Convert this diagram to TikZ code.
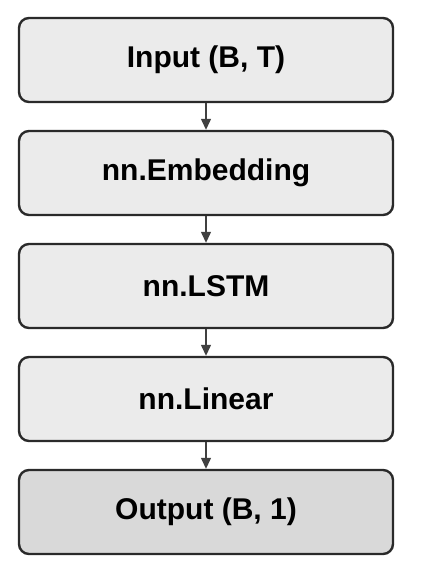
\documentclass[tikz,border=0pt]{standalone}
\usepackage{fontspec}
\setmainfont{Liberation Sans}
\usetikzlibrary{arrows.meta}
\definecolor{boxfill}{HTML}{EBEBEB}
\definecolor{outfill}{HTML}{D9D9D9}
\definecolor{edge}{HTML}{2A2A2A}
\definecolor{arr}{HTML}{404040}
\begin{document}
\begin{tikzpicture}[x=1pt,y=-1pt,
  layer/.style={draw=edge,line width=2.4pt,rounded corners=10pt,fill=boxfill,
    minimum width=374pt,minimum height=84pt,inner sep=0pt,
    font=\fontsize{30}{34}\selectfont\bfseries,text=black},
  outbox/.style={layer,fill=outfill},
  flow/.style={draw=arr,line width=1.3pt,-{Triangle[length=11pt,width=10pt]}}]
\useasboundingbox (0,0) rectangle (422,581);
\node[layer]  (in)  at (206,60)  {Input (B, T)};
\node[layer]  (emb) at (206,173) {nn.Embedding};
\node[layer]  (lstm) at (206,286) {nn.LSTM};
\node[layer]  (lin) at (206,399) {nn.Linear};
\node[outbox] (out) at (206,512) {Output (B, 1)};
\draw[flow] (in) -- (emb);
\draw[flow] (emb) -- (lstm);
\draw[flow] (lstm) -- (lin);
\draw[flow] (lin) -- (out);
\end{tikzpicture}
\end{document}
